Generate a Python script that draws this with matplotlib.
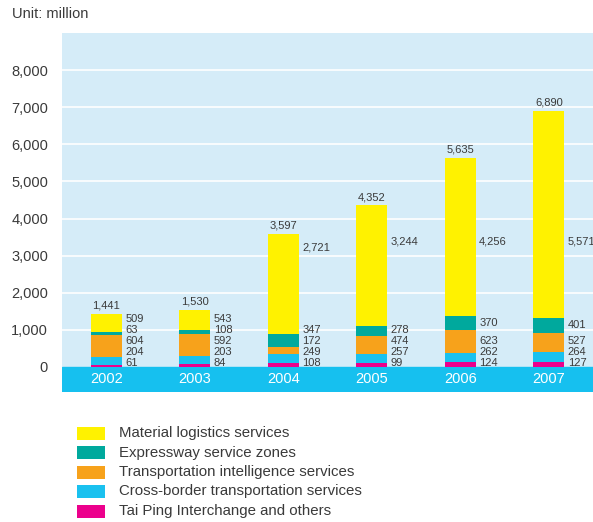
import matplotlib
matplotlib.use("Agg")
import matplotlib.pyplot as plt
from matplotlib.patches import Rectangle

plt.rcParams['font.family'] = ['Liberation Sans', 'DejaVu Sans']

years = ["2002", "2003", "2004", "2005", "2006", "2007"]
series_names = [
    "Tai Ping Interchange and others",
    "Cross-border transportation services",
    "Transportation intelligence services",
    "Expressway service zones",
    "Material logistics services",
]
tai_ping = [61, 84, 108, 99, 124, 127]
cross_border = [204, 203, 249, 257, 262, 264]
transport_intel = [604, 592, 172, 474, 623, 527]
expressway = [63, 108, 347, 278, 370, 401]
material = [509, 543, 2721, 3244, 4256, 5571]
totals = [1441, 1530, 3597, 4352, 5635, 6890]

colors = ["#EC008C", "#1AC1EF", "#F7A21B", "#00A99D", "#FFF200"]
bg = "#D5ECF8"
band = "#16C0EF"
txt = "#3a3a3a"

W, H = 593, 522
fig = plt.figure(figsize=(W / 100, H / 100), dpi=100)
ax = fig.add_axes([62 / W, (H - 392) / H, (W - 62) / W, (392 - 33) / H])
ax.set_facecolor(bg)
ymin, ymax = -674, 9000
ax.set_ylim(ymin, ymax)
ax.set_xlim(-0.5, 5.5)
for s in ax.spines.values():
    s.set_visible(False)

yt = list(range(0, 9000, 1000))
ax.set_yticks(yt)
ax.set_yticklabels([f"{v:,}" for v in yt], fontsize=10.5, color=txt)
ax.tick_params(axis='y', length=0, pad=10)
ax.set_xticks([])
for v in yt[1:]:
    ax.axhline(v, color="white", lw=1.2, zorder=1)
ax.axhspan(ymin, 0, color=band, zorder=1)

series = [tai_ping, cross_border, transport_intel, expressway, material]
x = list(range(len(years)))
bw = 0.35
bottoms = [0] * len(years)
for vals, c in zip(series, colors):
    ax.bar(x, vals, bw, bottom=bottoms, color=c, zorder=2, linewidth=0)
    bottoms = [b + v for b, v in zip(bottoms, vals)]

# value labels
for i in x:
    prev = None
    base = 0
    for k, vals in enumerate(series):
        v = vals[i]
        center = base + v / 2
        if k < 4:
            y = 100 if prev is None else max(center, prev + 300)
        else:
            y = max(prev + 300, min(totals[i] - 370, 3370))
        prev = y
        base += v
        ax.annotate(f"{v:,}", (i + bw / 2, y), xytext=(2.5, 0),
                    textcoords="offset points", ha="left", va="center",
                    fontsize=8, color=txt, annotation_clip=False, zorder=3)
    ax.annotate(f"{totals[i]:,}", (i, totals[i]), xytext=(0, 2.5),
                textcoords="offset points", ha="center", va="bottom",
                fontsize=8, color=txt, zorder=3)
    ax.text(i, ymin / 2, years[i], ha="center", va="center",
            fontsize=10.5, color="white", zorder=3)

fig.text(12 / W, 1 - 14 / H, "Unit: million", ha="left", va="center",
         fontsize=10.5, color=txt)

# legend (top to bottom)
leg_rows = list(zip(series_names, colors))[::-1]
for r, (name, c) in enumerate(leg_rows):
    yc = 433 + r * 19.5
    fig.add_artist(Rectangle((77 / W, 1 - (yc + 6.5) / H), 28 / W, 13 / H,
                             transform=fig.transFigure, color=c, lw=0))
    fig.text(119 / W, 1 - yc / H, name, ha="left", va="center",
             fontsize=10.8, color=txt)

fig.savefig("out.png", dpi=100)
